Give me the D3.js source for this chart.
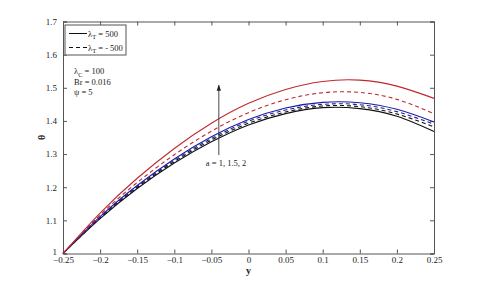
<!DOCTYPE html>
<html>
<head>
<meta charset="utf-8">
<script src="https://cdn.jsdelivr.net/npm/d3@7"></script>
<style>
  body { margin: 0; background: #fff; }
  text { font-family: "Liberation Serif", "DejaVu Serif", serif; fill: #222; }
</style>
</head>
<body>
<div id="chart"></div>
<script>
// data
const yPos = [-0.25, -0.2, -0.15, -0.1, -0.05, 0, 0.05, 0.1, 0.15, 0.2, 0.25];
const redSolid   = [1.0, 1.122, 1.227, 1.317, 1.393, 1.453, 1.495, 1.519, 1.523, 1.505, 1.468];
const redDashed  = [1.0, 1.116, 1.214, 1.298, 1.369, 1.425, 1.464, 1.485, 1.486, 1.465, 1.422];
const blueSolid  = [1.0, 1.111, 1.205, 1.285, 1.352, 1.404, 1.439, 1.456, 1.455, 1.435, 1.397];
const blueDashed = [1.0, 1.109, 1.202, 1.281, 1.347, 1.399, 1.433, 1.450, 1.449, 1.428, 1.390];
const blackDashed= [1.0, 1.107, 1.199, 1.277, 1.342, 1.393, 1.427, 1.445, 1.443, 1.421, 1.382];
const blackSolid = [1.0, 1.105, 1.196, 1.273, 1.337, 1.388, 1.422, 1.440, 1.437, 1.414, 1.368];
const xTicks = [-0.25, -0.2, -0.15, -0.1, -0.05, 0, 0.05, 0.1, 0.15, 0.2, 0.25];
const yTicks = [1, 1.1, 1.2, 1.3, 1.4, 1.5, 1.6, 1.7];
const arrowAt = -0.04, arrowFrom = 1.297, arrowTo = 1.508;

const width = 480, height = 285;
const margin = {left: 63, top: 21.5, right: 46, bottom: 31.5};

const svg = d3.select('#chart')
  .append('svg')
  .attr('width', width)
  .attr('height', height);

// 1. scales
const x = d3.scaleLinear().domain([-0.25, 0.25]).range([margin.left, width - margin.right]);
const y = d3.scaleLinear().domain([1, 1.7]).range([height - margin.bottom, margin.top]);

// 2. axes, ticks inside on all four sides
const axisColor = '#555';
const fmt = d => d3.format('')(+d.toFixed(2));

const gb = svg.append('g').attr('transform', `translate(0,${y(1)})`)
  .call(d3.axisBottom(x).tickValues(xTicks).tickSize(-4).tickPadding(3.5).tickFormat(fmt));
const gt = svg.append('g').attr('transform', `translate(0,${y(1.7)})`)
  .call(d3.axisTop(x).tickValues(xTicks).tickSize(-4).tickFormat(''));
const gl = svg.append('g').attr('transform', `translate(${x(-0.25)},0)`)
  .call(d3.axisLeft(y).tickValues(yTicks).tickSize(-4).tickPadding(6).tickFormat(fmt));
const gr = svg.append('g').attr('transform', `translate(${x(0.25)},0)`)
  .call(d3.axisRight(y).tickValues(yTicks).tickSize(-4).tickFormat(''));

[gb, gt, gl, gr].forEach(g => {
  g.select('.domain').attr('stroke', axisColor);
  g.selectAll('.tick line').attr('stroke', axisColor);
  g.selectAll('.tick text')
    .attr('font-family', '"Liberation Serif", serif')
    .attr('font-size', 9)
    .attr('fill', '#222');
});
// lift the lowest y label a touch so it clears "-0.25"
gl.selectAll('.tick text').filter(d => d === 1).attr('dy', '0.1em');

// 3. curves
const series = [
  {v: blackSolid, color: '#111', dash: null},
  {v: blackDashed, color: '#111', dash: '4,3'},
  {v: blueSolid, color: '#1c1ca0', dash: null},
  {v: blueDashed, color: '#1c1ca0', dash: '4,3'},
  {v: redDashed, color: '#c0282e', dash: '4,3'},
  {v: redSolid, color: '#c0282e', dash: null}
];

const line = d3.line()
  .x((d, i) => x(yPos[i]))
  .y(d => y(d))
  .curve(d3.curveNatural);

svg.selectAll('path.curve')
  .data(series)
  .enter()
  .append('path')
  .attr('class', 'curve')
  .attr('d', d => line(d.v))
  .attr('fill', 'none')
  .attr('stroke', d => d.color)
  .attr('stroke-width', 1.1)
  .attr('stroke-dasharray', d => d.dash);

// 4. arrow and its label
svg.append('defs').append('marker')
  .attr('id', 'head')
  .attr('viewBox', '0 0 10 10')
  .attr('refX', 9).attr('refY', 5)
  .attr('markerWidth', 7).attr('markerHeight', 7)
  .attr('orient', 'auto')
  .append('path')
  .attr('d', 'M0,1.5 L10,5 L0,8.5 Z')
  .attr('fill', '#222');

svg.append('line')
  .attr('x1', x(arrowAt)).attr('x2', x(arrowAt))
  .attr('y1', y(arrowFrom)).attr('y2', y(arrowTo))
  .attr('stroke', '#333')
  .attr('stroke-width', 0.9)
  .attr('marker-end', 'url(#head)');

svg.append('text')
  .attr('x', x(arrowAt) - 13)
  .attr('y', y(arrowFrom) + 11)
  .attr('font-size', 8.5)
  .text('a = 1, 1.5, 2');

// 5. legend
const lg = svg.append('g');
lg.append('rect')
  .attr('x', 65).attr('y', 25)
  .attr('width', 61).attr('height', 30)
  .attr('fill', '#fff')
  .attr('stroke', axisColor);

const legendItems = [
  {label: ' = 500', dash: null, yy: 33.5},
  {label: ' = - 500', dash: '4,3', yy: 47.5}
];
legendItems.forEach(it => {
  lg.append('line')
    .attr('x1', 69).attr('x2', 87)
    .attr('y1', it.yy).attr('y2', it.yy)
    .attr('stroke', '#111')
    .attr('stroke-dasharray', it.dash);
  const t = lg.append('text')
    .attr('x', 88).attr('y', it.yy + 3)
    .attr('font-size', 8.5);
  t.append('tspan').text('λ');
  t.append('tspan').attr('dy', 2.5).attr('font-size', 6.5).text('T');
  t.append('tspan').attr('dy', -2.5).text(it.label);
});

// 6. parameter notes
const notes = svg.append('g').attr('font-size', 8.5);
const n1 = notes.append('text').attr('x', 74).attr('y', 74);
n1.append('tspan').text('λ');
n1.append('tspan').attr('dy', 2.5).attr('font-size', 6.5).text('C');
n1.append('tspan').attr('dy', -2.5).text(' = 100');
notes.append('text').attr('x', 74).attr('y', 85).text('Br = 0.016');
notes.append('text').attr('x', 74).attr('y', 95).text('ψ = 5');

// 7. axis titles
svg.append('text')
  .attr('x', x(0)).attr('y', 274)
  .attr('text-anchor', 'middle')
  .attr('font-size', 10)
  .attr('font-weight', 'bold')
  .text('y');

svg.append('text')
  .attr('transform', `translate(45,${y(1.35)}) rotate(-90)`)
  .attr('text-anchor', 'middle')
  .attr('font-size', 10)
  .attr('font-weight', 'bold')
  .text('θ');
</script>
</body>
</html>
